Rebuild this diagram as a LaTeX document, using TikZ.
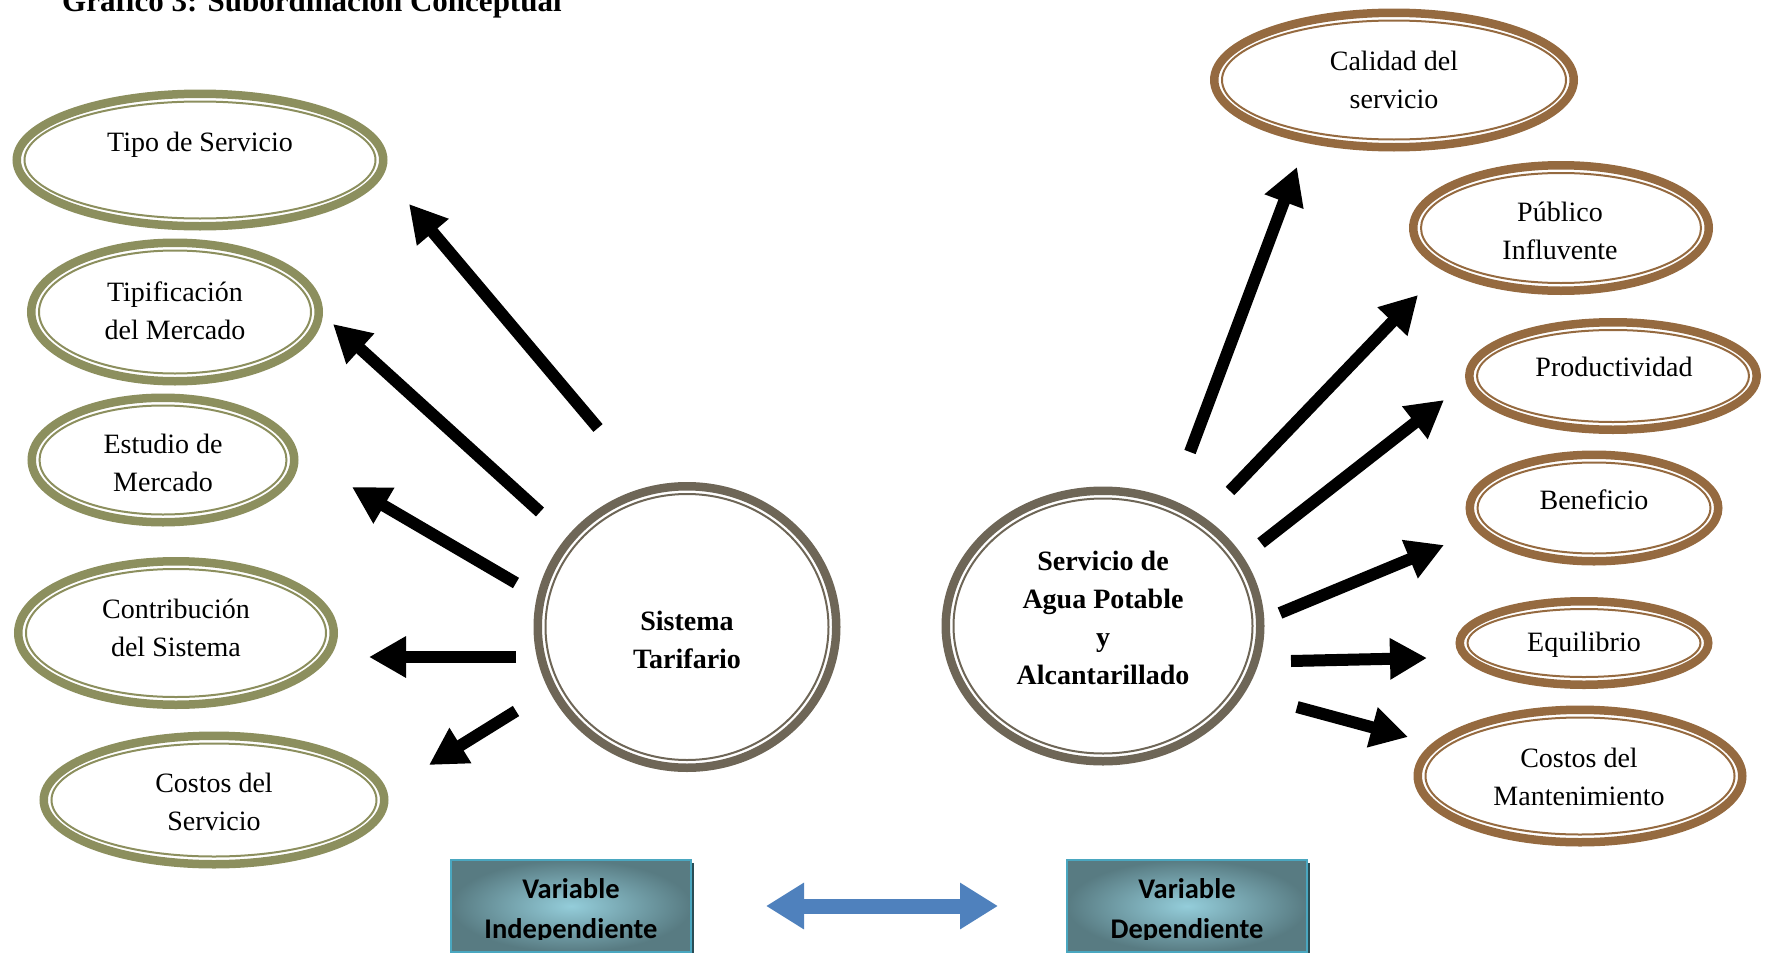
\documentclass[tikz,border=0pt]{standalone}
\usepackage{fontspec}
\setmainfont{Liberation Serif}
\newfontfamily\boxfont{Carlito}
\usetikzlibrary{arrows.meta,shapes.geometric,calc,shadows}
\definecolor{olivering}{HTML}{8C8F5E}
\definecolor{brownring}{HTML}{956A40}
\definecolor{grayring}{HTML}{6E6657}
\definecolor{bluearrow}{HTML}{4F81BD}
\definecolor{boxlight}{HTML}{94CDDA}
\definecolor{boxdark}{HTML}{587B82}
\definecolor{boxborder}{HTML}{4AA7C0}
\definecolor{boxshadow}{HTML}{2A4D55}
\tikzset{
  ringnode/.style={ellipse, line width=8.5pt, inner sep=0pt},
  lbl/.style={align=center, font=\fontsize{28}{38}\selectfont},
  blbl/.style={align=center, font=\fontsize{28}{38}\selectfont\bfseries},
  bigarrow/.style={line width=12pt, -{Triangle[length=37pt,width=39pt]}},
  varbox/.style={rectangle, draw=boxborder, line width=2pt, inner color=boxlight, outer color=boxdark,
     minimum height=92pt, minimum width=240pt,
     drop shadow={shadow xshift=3pt, shadow yshift=-3pt, fill=boxshadow, opacity=1}},
  boxtext/.style={align=center, font=\fontsize{28.5}{40}\selectfont\boxfont\bfseries},
  bluearr/.style={line width=15pt, bluearrow, {Triangle[length=38pt,width=44pt]}-{Triangle[length=38pt,width=44pt]}}
}
\newcommand\dblring[6]{%
  \node[ringnode, draw=#6, minimum width={(#4-8.5)*1pt}, minimum height={(#5-8.5)*1pt}] (#1) at (#2,#3) {};
  \draw[draw=#6, line width=2pt] (#1.center) ellipse [x radius={#4/2-12}, y radius={#5/2-12}];
}
\begin{document}
\begin{tikzpicture}[x=1pt,y=-1pt]
\clip (0,0) rectangle (1765,953);
\useasboundingbox (0,0) rectangle (1765,953);

% title (cut off at top, as in the reference)
\node[anchor=base west, inner sep=0pt, font=\fontsize{31}{36}\selectfont\bfseries] (title) at (62,12) {Gráfico 3: Subordinación Conceptual};

% left ellipses
\dblring{tipo}{200}{160}{375}{141}{olivering}
\dblring{tipif}{175}{312}{296}{147}{olivering}
\dblring{estud}{163}{460}{271}{133}{olivering}
\dblring{contr}{176}{633}{324}{152}{olivering}
\dblring{costs}{214}{800}{349}{137}{olivering}
% circles
\dblring{st}{687}{627}{307}{290}{grayring}
\dblring{sa}{1103}{626}{323}{279}{grayring}
% right ellipses
\dblring{cal}{1394}{80}{368}{143}{brownring}
\dblring{pub}{1561}{228}{304}{134}{brownring}
\dblring{prod}{1613}{376}{296}{116}{brownring}
\dblring{ben}{1594}{508}{257}{115}{brownring}
\dblring{equ}{1584}{643}{257}{92}{brownring}
\dblring{cm}{1580}{776}{333}{141}{brownring}

% texts
\node[lbl] (tipo-t) at (200,145) {Tipo de Servicio};
\node[lbl] (tipif-t) at (175,311) {Tipificación\\del Mercado};
\node[lbl] (estud-t) at (163,463) {Estudio de\\Mercado};
\node[lbl] (contr-t) at (176,628) {Contribución\\del Sistema};
\node[lbl] (costs-t) at (214,802) {Costos del\\Servicio};
\node[blbl] (st-t) at (687,640) {Sistema\\Tarifario};
\node[blbl] (sa-t) at (1103,618) {Servicio de\\Agua Potable\\y\\Alcantarillado};
\node[lbl] (cal-t) at (1394,80) {Calidad del\\servicio};
\node[lbl] (pub-t) at (1560,231) {Público\\Influvente};
\node[lbl] (prod-t) at (1614,367) {Productividad};
\node[lbl] (ben-t) at (1594,500) {Beneficio};
\node[lbl] (equ-t) at (1584,645) {Equilibrio};
\node[lbl] (cm-t) at (1579,777) {Costos del\\Mantenimiento};

% arrow end points
\coordinate (s1) at (598,428); \coordinate (e1) at (409,204);
\coordinate (s2) at (540,512); \coordinate (e2) at (333,324);
\coordinate (s3) at (516,583); \coordinate (e3) at (352,487);
\coordinate (s4) at (516,657); \coordinate (e4) at (369,657);
\coordinate (s5) at (516,711); \coordinate (e5) at (429,765);
\coordinate (r1) at (1190,452); \coordinate (f1) at (1297,167);
\coordinate (r2) at (1230,491); \coordinate (f2) at (1418,295);
\coordinate (r3) at (1261,543); \coordinate (f3) at (1444,400);
\coordinate (r4) at (1280,613); \coordinate (f4) at (1444,545);
\coordinate (r5) at (1291,661); \coordinate (f5) at (1427,658);
\coordinate (r6) at (1297,707); \coordinate (f6) at (1408,737);

\foreach \i in {1,...,5} { \draw[bigarrow] (s\i) -- (e\i); }
\foreach \i in {1,...,6} { \draw[bigarrow] (r\i) -- (f\i); }

% variable boxes
\node[varbox] (vi) at (571,906) {};
\node[varbox] (vd) at (1187,906) {};
\begin{scope}
  \clip (451,860) rectangle (691,939);
  \node[boxtext] (vi-t) at (571,911) {Variable\\Independiente};
\end{scope}
\begin{scope}
  \clip (1067,860) rectangle (1307,939);
  \node[boxtext] (vd-t) at (1187,911) {Variable\\Dependiente};
\end{scope}
\draw[bluearr, shorten <=74pt, shorten >=68pt] (vi.east) -- (vd.west);
\end{tikzpicture}
\end{document}
